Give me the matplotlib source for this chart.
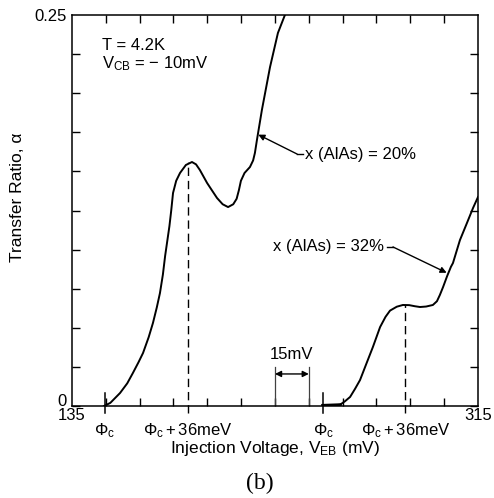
import matplotlib
matplotlib.use("Agg")
import matplotlib.pyplot as plt
import numpy as np

matplotlib.rcParams.update({
    'font.family': ['Liberation Sans', 'DejaVu Sans'],
    'font.size': 12,
    'mathtext.fontset': 'custom',
    'mathtext.rm': 'Liberation Sans',
    'mathtext.it': 'Liberation Sans:italic',
})

# curve for x(AlAs) = 20%  (injection voltage mV, transfer ratio)
v20 = [149.2, 152.0, 156.3, 159.5, 162.0, 164.5, 166.5, 169.0, 170.9, 172.6,
       174.0, 175.3, 176.3, 177.2, 178.2, 179.0, 179.8, 181.2, 182.9, 185.5,
       188.2, 190.0, 191.7, 194.9, 197.0, 199.3, 201.8, 204.2, 206.5, 208.0,
       209.0, 209.9, 211.5, 213.9, 215.3, 216.1, 217.0, 219.2, 222.8, 226.3,
       229.4, 230.5]
a20 = [0.000, 0.002, 0.0083, 0.0145, 0.0211, 0.028, 0.0339, 0.044, 0.0531, 0.063,
       0.0722, 0.084, 0.0960, 0.1050, 0.1150, 0.125, 0.1362, 0.144, 0.1490, 0.1541,
       0.1560, 0.1545, 0.1509, 0.1426, 0.138, 0.1330, 0.129, 0.1272, 0.1290, 0.1325,
       0.138, 0.1440, 0.149, 0.1528, 0.157, 0.1618, 0.1701, 0.1893, 0.2167, 0.2385,
       0.2500, 0.256]

# curve for x(AlAs) = 32%
v32 = [246.3, 250.0, 253.8, 256.0, 258.3, 260.5, 262.7, 265.5, 268.4, 271.6,
       274.0, 276.0, 279.0, 281.7, 284.5, 287.0, 289.3, 292.0, 295.0, 296.8,
       298.1, 299.5, 301.3, 303.0, 303.9, 305.5, 307.0, 310.1, 312.8, 315.0]
a32 = [0.000, 0.0003, 0.0008, 0.003, 0.0058, 0.011, 0.0166, 0.027, 0.0377, 0.0505,
       0.057, 0.0610, 0.0635, 0.0646, 0.0645, 0.0638, 0.0633, 0.0636, 0.0646, 0.067,
       0.0710, 0.076, 0.0830, 0.089, 0.0914, 0.099, 0.1061, 0.1170, 0.1266, 0.1336]

phi_c = [149.5, 246.5]           # threshold positions
phi_peak = [186.3, 282.8]        # Phi_c + 36 meV
peak_alpha = [0.156, 0.0646]
minor_x = np.arange(150, 301, 15)
minor_y = np.arange(0, 0.251, 0.025)

fig = plt.figure(figsize=(4.94, 4.98), dpi=100)
ax = fig.add_axes([0.1457, 0.1847, 0.8219, 0.7852])

ax.plot(v20, a20, color='black', lw=1.4, solid_joinstyle='round')
ax.plot(v32, a32, color='black', lw=1.4, solid_joinstyle='round')
ax.plot([v32[0], v32[2]], [0.0002, 0.0006], color='black', lw=2.6)

ax.set_xlim(135, 315)
ax.set_ylim(0, 0.25)

for s in ax.spines.values():
    s.set_linewidth(1.1)

# ticks
ax.set_xticks(phi_c + phi_peak)
ax.set_xticklabels(['$\\Phi_{\\mathrm{c}}$', '$\\Phi_{\\mathrm{c}}$',
                    '$\\Phi_{\\mathrm{c}}+36\\mathrm{meV}$', '$\\Phi_{\\mathrm{c}}+36\\mathrm{meV}$'])
ax.tick_params(axis='x', which='major', length=0, pad=11, labelsize=12)
ax.set_xticks(minor_x, minor=True)
ax.set_yticks([0.004, 0.25])
ax.set_yticklabels(['0', '0.25'])
ax.set_yticks(minor_y, minor=True)
ax.tick_params(axis='y', which='major', length=0, pad=4, labelsize=12)
ax.tick_params(which='minor', direction='in', length=6, width=1.0,
               top=True, right=True, bottom=True, left=True)

# long marks at the thresholds
for x in phi_c:
    ax.plot([x, x], [-0.0045, 0.0085], color='black', lw=1.1, clip_on=False)
# dashed lines at Phi_c + 36 meV
for x, h in zip(phi_peak, peak_alpha):
    ax.plot([x, x], [-0.0045, h], color='black', lw=1.0, dashes=(6, 3.5), clip_on=False)

# 15 mV scale marker
ax.plot([225, 225], [0, 0.025], color='0.25', lw=0.9)
ax.plot([240, 240], [0, 0.025], color='0.25', lw=0.9)
ax.annotate('', xy=(225, 0.0205), xytext=(240, 0.0205),
            arrowprops=dict(arrowstyle='<|-|>', color='black', lw=1.0,
                            shrinkA=0, shrinkB=0, mutation_scale=9))
ax.text(232.5, 0.0330, '15mV', ha='center', va='center', fontsize=12)

# end labels
ax.text(135, -0.0062, '135', ha='center', va='center', fontsize=12)
ax.text(315, -0.0062, '315', ha='center', va='center', fontsize=12)

# conditions
ax.text(148.3, 0.2302, 'T = 4.2K', ha='left', va='center', fontsize=12)
ax.text(148.3, 0.2190, 'V$_{\\mathrm{CB}}$ = − 10mV', ha='left', va='center', fontsize=12)

# curve annotations
ax.plot([234.8, 237.4], [0.1611, 0.1611], color='black', lw=1.0)
ax.annotate('', xy=(217.6, 0.1735), xytext=(234.8, 0.1611),
            arrowprops=dict(arrowstyle='-|>', color='black', lw=1.0,
                            shrinkA=0, shrinkB=0, mutation_scale=9))
ax.text(238.3, 0.1611, 'x (AlAs) = 20%', ha='left', va='center', fontsize=12)

ax.plot([274.7, 277.3], [0.1017, 0.1017], color='black', lw=1.0)
ax.annotate('', xy=(301.1, 0.0852), xytext=(277.3, 0.1017),
            arrowprops=dict(arrowstyle='-|>', color='black', lw=1.0,
                            shrinkA=0, shrinkB=0, mutation_scale=9))
ax.text(273.5, 0.1017, 'x (AlAs) = 32%', ha='right', va='center', fontsize=12)

ax.set_xlabel('Injection Voltage, V$_{\\mathrm{EB}}$ (mV)', fontsize=12.5)
ax.xaxis.set_label_coords(0.5, -0.085)
ax.set_ylabel('Transfer Ratio, α', fontsize=12.5)
ax.yaxis.set_label_coords(-0.115, 0.535)

fig.text(0.526, 0.030, '(b)', ha='center', va='center', fontsize=17,
         family='Liberation Serif')

fig.savefig('out.png', dpi=100)
